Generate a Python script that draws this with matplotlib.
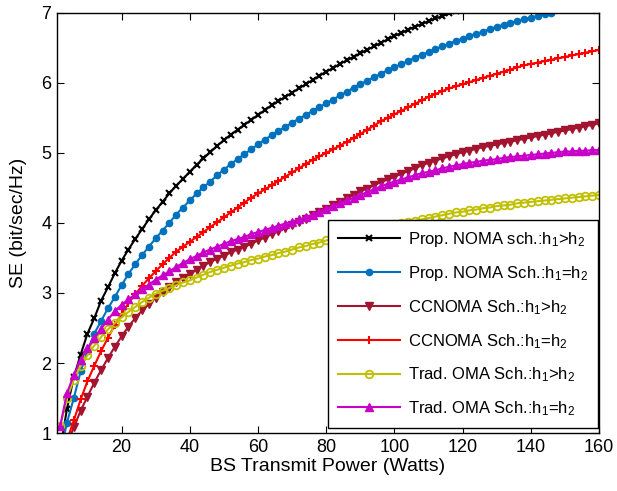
import matplotlib
matplotlib.use('Agg')
import matplotlib.pyplot as plt
import numpy as np

plt.rcParams['font.family'] = ['Liberation Sans', 'DejaVu Sans']
plt.rcParams['mathtext.default'] = 'regular'

# BS transmit power grid (Watts)
P = np.arange(2, 161, 2)

# spectral efficiency per scheme (bit/sec/Hz)
se_prop_noma_diff = [0.75, 1.35, 1.80, 2.12, 2.42, 2.64, 2.89, 3.08, 3.28, 3.46,
                     3.62, 3.77, 3.91, 4.05, 4.18, 4.30, 4.42, 4.53, 4.63, 4.73,
                     4.83, 4.92, 5.01, 5.10, 5.18, 5.26, 5.33, 5.40, 5.47, 5.54,
                     5.61, 5.68, 5.74, 5.80, 5.86, 5.92, 5.98, 6.04, 6.10, 6.16,
                     6.21, 6.27, 6.32, 6.37, 6.42, 6.47, 6.52, 6.57, 6.62, 6.67,
                     6.71, 6.76, 6.80, 6.84, 6.88, 6.92, 6.95, 6.99, 7.03]
se_prop_noma_eq = [0.70, 1.15, 1.50, 1.88, 2.17, 2.42, 2.60, 2.78, 2.94, 3.11,
                   3.27, 3.41, 3.54, 3.66, 3.78, 3.89, 4.00, 4.12, 4.22, 4.32,
                   4.42, 4.51, 4.59, 4.68, 4.76, 4.84, 4.91, 4.98, 5.05, 5.12,
                   5.19, 5.25, 5.31, 5.37, 5.43, 5.49, 5.54, 5.60, 5.65, 5.71,
                   5.76, 5.82, 5.87, 5.93, 5.98, 6.03, 6.08, 6.13, 6.18, 6.22,
                   6.27, 6.31, 6.36, 6.40, 6.44, 6.48, 6.52, 6.56, 6.60, 6.63,
                   6.67, 6.70, 6.73, 6.77, 6.80, 6.83, 6.86, 6.88, 6.91, 6.93,
                   6.96, 6.98, 7.00]
se_ccnoma_diff = [0.50, 0.85, 1.08, 1.32, 1.52, 1.72, 1.90, 2.07, 2.23, 2.38,
                  2.52, 2.64, 2.75, 2.84, 2.93, 3.01, 3.08, 3.15, 3.21, 3.27,
                  3.33, 3.39, 3.44, 3.49, 3.53, 3.58, 3.62, 3.66, 3.70, 3.75,
                  3.79, 3.84, 3.88, 3.93, 3.97, 4.02, 4.06, 4.11, 4.15, 4.20,
                  4.25, 4.30, 4.35, 4.40, 4.45, 4.49, 4.54, 4.58, 4.62, 4.66,
                  4.70, 4.74, 4.78, 4.82, 4.86, 4.89, 4.92, 4.95, 4.98, 5.01,
                  5.03, 5.06, 5.08, 5.10, 5.12, 5.14, 5.16, 5.18, 5.20, 5.22,
                  5.24, 5.26, 5.28, 5.30, 5.32, 5.34, 5.36, 5.38, 5.40, 5.42]
se_ccnoma_eq = [0.55, 0.90, 1.18, 1.48, 1.74, 1.96, 2.17, 2.36, 2.54, 2.70,
                2.85, 2.98, 3.10, 3.21, 3.31, 3.41, 3.50, 3.59, 3.66, 3.73,
                3.80, 3.87, 3.94, 4.01, 4.08, 4.15, 4.22, 4.29, 4.36, 4.42,
                4.48, 4.54, 4.60, 4.66, 4.72, 4.78, 4.84, 4.90, 4.95, 5.00,
                5.05, 5.10, 5.16, 5.21, 5.27, 5.33, 5.39, 5.45, 5.50, 5.55,
                5.60, 5.65, 5.70, 5.75, 5.80, 5.84, 5.88, 5.92, 5.95, 5.98,
                6.01, 6.04, 6.07, 6.10, 6.13, 6.16, 6.19, 6.22, 6.25, 6.27,
                6.29, 6.31, 6.33, 6.35, 6.37, 6.39, 6.41, 6.43, 6.45, 6.47]
se_oma_diff = [1.10, 1.50, 1.76, 1.96, 2.11, 2.25, 2.37, 2.48, 2.57, 2.65,
               2.73, 2.80, 2.87, 2.93, 2.99, 3.03, 3.07, 3.11, 3.15, 3.18,
               3.22, 3.26, 3.30, 3.33, 3.36, 3.39, 3.42, 3.44, 3.47, 3.49,
               3.52, 3.54, 3.57, 3.59, 3.62, 3.65, 3.67, 3.70, 3.72, 3.75,
               3.77, 3.80, 3.82, 3.84, 3.87, 3.89, 3.91, 3.93, 3.96, 3.98,
               4.00, 4.02, 4.03, 4.05, 4.07, 4.09, 4.11, 4.13, 4.15, 4.16,
               4.18, 4.19, 4.21, 4.22, 4.24, 4.25, 4.26, 4.28, 4.29, 4.30,
               4.31, 4.32, 4.33, 4.34, 4.35, 4.36, 4.37, 4.38, 4.39, 4.40]
se_oma_eq = [1.10, 1.57, 1.83, 2.04, 2.21, 2.35, 2.49, 2.62, 2.74, 2.83,
             2.91, 2.98, 3.05, 3.12, 3.19, 3.25, 3.31, 3.37, 3.43, 3.48,
             3.53, 3.58, 3.62, 3.66, 3.70, 3.74, 3.77, 3.80, 3.84, 3.87,
             3.90, 3.93, 3.96, 3.99, 4.02, 4.05, 4.08, 4.12, 4.16, 4.20,
             4.24, 4.28, 4.32, 4.36, 4.40, 4.44, 4.48, 4.52, 4.56, 4.59,
             4.62, 4.65, 4.68, 4.71, 4.73, 4.75, 4.78, 4.80, 4.82, 4.84,
             4.86, 4.87, 4.89, 4.90, 4.91, 4.93, 4.94, 4.95, 4.96, 4.97,
             4.98, 4.99, 5.00, 5.01, 5.02, 5.02, 5.03, 5.03, 5.04, 5.04]

labels = ['Prop. NOMA sch.:h$_1$>h$_2$',
          'Prop. NOMA Sch.:h$_1$=h$_2$',
          'CCNOMA Sch.:h$_1$>h$_2$',
          'CCNOMA Sch.:h$_1$=h$_2$',
          'Trad. OMA Sch.:h$_1$>h$_2$',
          'Trad. OMA Sch.:h$_1$=h$_2$']

fig = plt.figure(figsize=(6.17, 4.91), dpi=100)
ax = fig.add_axes([0.092, 0.118, 0.879, 0.856])

lw = 1.5
ax.plot(P[:len(se_prop_noma_diff)], se_prop_noma_diff, color='k', lw=lw,
        marker='x', ms=5, mew=1.5, label=labels[0])
ax.plot(P[:len(se_prop_noma_eq)], se_prop_noma_eq, color='#0072BD', lw=lw,
        marker='.', ms=9, label=labels[1])
ax.plot(P, se_ccnoma_diff, color='#A2142F', lw=lw,
        marker='v', ms=5.5, label=labels[2])
ax.plot(P, se_ccnoma_eq, color='r', lw=lw,
        marker='+', ms=6, mew=1.5, label=labels[3])
ax.plot(P, se_oma_diff, color='#C0C000', lw=lw,
        marker='o', ms=5.5, mfc='none', mew=1.3, label=labels[4])
ax.plot(P, se_oma_eq, color='#C800C8', lw=lw,
        marker='^', ms=5.5, label=labels[5])

ax.set_xlim(1, 160)
ax.set_ylim(1, 7)
ax.set_xticks([20, 40, 60, 80, 100, 120, 140, 160])
ax.set_yticks([1, 2, 3, 4, 5, 6, 7])
ax.tick_params(direction='in', top=True, right=True, length=5, width=0.8,
               labelsize=13, pad=4)
for s in ax.spines.values():
    s.set_linewidth(1.0)

ax.set_xlabel('BS Transmit Power (Watts)', fontsize=14, labelpad=2)
ax.set_ylabel('SE (bit/sec/Hz)', fontsize=14, labelpad=10)

leg = ax.legend(loc='lower right', bbox_to_anchor=(0.998, 0.012),
                fontsize=12, handlelength=3.7, labelspacing=0.9,
                borderaxespad=0, fancybox=False, framealpha=1,
                edgecolor='k', borderpad=0.6, handletextpad=0.5)
leg.get_frame().set_linewidth(1.0)

fig.savefig('out.png', dpi=100)
